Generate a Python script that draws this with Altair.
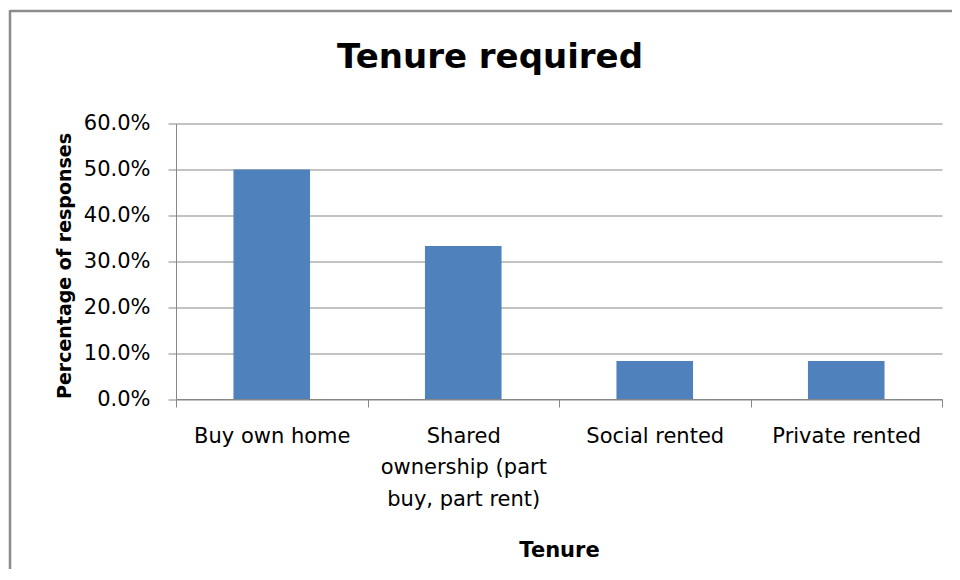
import altair as alt
import pandas as pd

categories = ["Buy own home", "Shared ownership (part buy, part rent)", "Social rented", "Private rented"]
label_lines = [["Buy own home"], ["Shared", "ownership (part", "buy, part rent)"], ["Social rented"], ["Private rented"]]
values = [0.50, 0.333, 0.083, 0.083]
y_ticks = [0.0, 0.1, 0.2, 0.3, 0.4, 0.5, 0.6]
chart_title = "Tenure required"

df = pd.DataFrame({"Tenure": categories, "Percentage": values})

# label expression for multi-line category labels
parts = []
for cat, lines in zip(categories, label_lines):
    arr = "[" + ",".join("'" + l + "'" for l in lines) + "]"
    parts.append(f"datum.label == '{cat}' ? {arr}")
label_expr = " : ".join(parts) + " : datum.label"

FONT = "DejaVu Sans"
GRID = "#868686"
BORDER = "#8c8c8c"

PLOT_W = 766
PLOT_H = 275.5
LEFT = 168
TOP = 115.5

bars = alt.Chart(df).mark_bar(color="#4F81BD", width=alt.RelativeBandSize(0.4)).encode(
    x=alt.X(
        "Tenure:N",
        sort=categories,
        scale=alt.Scale(paddingInner=0, paddingOuter=0),
        axis=alt.Axis(
            title="Tenure",
            labelAngle=0,
            labelExpr=label_expr,
            labelFont=FONT,
            labelFontSize=21,
            labelColor="#000000",
            labelBaseline="alphabetic",
            labelPadding=35,
            labelLineHeight=31.7,
            tickBand="extent",
            tickSize=8,
            tickColor=GRID,
            domainColor=GRID,
            grid=False,
            titleFont=FONT,
            titleFontSize=21,
            titleFontWeight="bold",
            titleColor="#000000",
            titleBaseline="alphabetic",
            titleY=157.5,
        ),
    ),
    y=alt.Y(
        "Percentage:Q",
        scale=alt.Scale(domain=[0, 0.6], nice=False),
        axis=alt.Axis(
            title="Percentage of responses",
            values=y_ticks,
            format=".1%",
            labelFont=FONT,
            labelFontSize=21,
            labelColor="#000000",
            labelPadding=18,
            tickSize=8,
            tickColor=GRID,
            domainColor=GRID,
            gridColor=GRID,
            titleFont=FONT,
            titleFontSize=19,
            titleFontWeight="bold",
            titleColor="#000000",
            titleAngle=-90,
            titleBaseline="alphabetic",
            titleAlign="center",
            titleX=-106,
            titleY=142,
        ),
    ),
)

deco_data = alt.Data(values=[{"k": 0}])
title_text = alt.Chart(deco_data).mark_text(
    font=FONT, fontSize=34, fontWeight="bold", color="#000000",
    align="center", baseline="alphabetic",
).encode(
    x=alt.value(314), y=alt.value(-55.5), text=alt.value(chart_title)
)
border_top = alt.Chart(deco_data).mark_rule(color=BORDER, strokeWidth=2.5).encode(
    x=alt.value(-166), x2=alt.value(800), y=alt.value(-112.5)
)
border_left = alt.Chart(deco_data).mark_rule(color=BORDER, strokeWidth=2.5).encode(
    x=alt.value(-166), y=alt.value(-113.5), y2=alt.value(470)
)

chart = alt.layer(bars, title_text, border_top, border_left).properties(
    width=PLOT_W,
    height=PLOT_H,
    autosize=alt.AutoSizeParams(type="none"),
    padding={"left": LEFT, "top": TOP, "right": 10, "bottom": 170},
).configure_view(stroke=None)

chart.save("out.html", embed_options={"renderer": "svg", "actions": False})
